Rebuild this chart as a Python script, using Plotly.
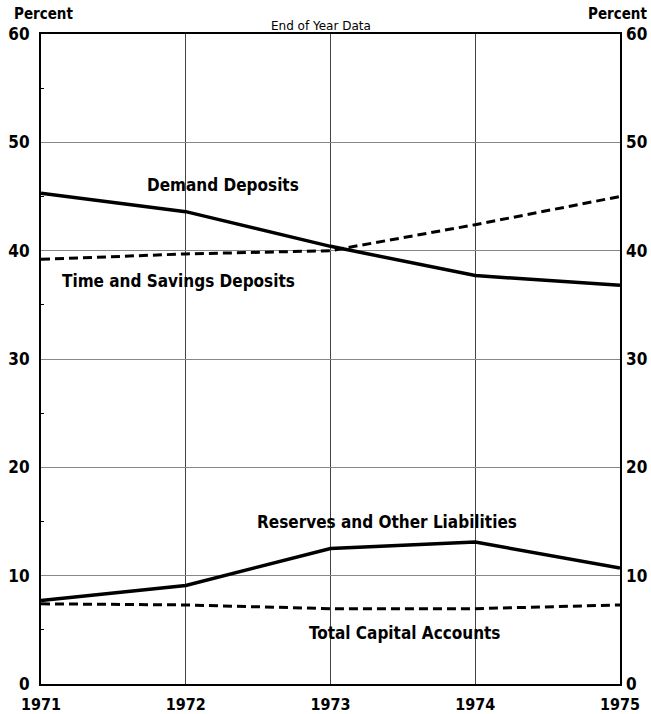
import plotly.graph_objects as go

years = [1971, 1972, 1973, 1974, 1975]
year_labels = ["1971", "1972", "1973", "1974", "1975"]
demand_deposits = [45.3, 43.6, 40.4, 37.7, 36.8]
time_savings = [39.2, 39.7, 40.0, 42.4, 45.0]
reserves_other = [7.7, 9.1, 12.5, 13.1, 10.7]
capital_accounts = [7.4, 7.3, 6.95, 6.95, 7.3]
y_ticks = [0, 10, 20, 30, 40, 50, 60]

FONT = "DejaVu Sans Condensed"
bold = dict(family=FONT, size=17, weight="bold", color="black")

fig = go.Figure()
fig.add_trace(go.Scatter(x=years, y=demand_deposits, mode="lines",
                         line=dict(color="black", width=3.5), showlegend=False))
fig.add_trace(go.Scatter(x=years, y=time_savings, mode="lines",
                         line=dict(color="black", width=3, dash="9px,5px"), showlegend=False))
fig.add_trace(go.Scatter(x=years, y=reserves_other, mode="lines",
                         line=dict(color="black", width=3.5), showlegend=False))
fig.add_trace(go.Scatter(x=years, y=capital_accounts, mode="lines",
                         line=dict(color="black", width=3, dash="9px,5px"), showlegend=False))
# invisible companion trace so the right axis is drawn
fig.add_trace(go.Scatter(x=years, y=capital_accounts, mode="lines", yaxis="y2",
                         line=dict(color="rgba(0,0,0,0)", width=0), showlegend=False,
                         hoverinfo="skip"))

labels = [
    ("Demand Deposits", 1972.26, 46.1),
    ("Time and Savings Deposits", 1971.95, 37.2),
    ("Reserves and Other Liabilities", 1973.39, 15.0),
    ("Total Capital Accounts", 1973.51, 4.7),
]
for text, x, y in labels:
    fig.add_annotation(x=x, y=y, text=text, showarrow=False,
                       font=dict(family=FONT, size=17, weight="bold", color="black"))

fig.add_annotation(xref="paper", yref="paper", x=0.5, y=1.0, yshift=8, xshift=-10,
                   yanchor="middle", text="End of Year Data", showarrow=False,
                   font=dict(family="DejaVu Sans", size=12, color="black"))
fig.add_annotation(xref="paper", yref="paper", x=0, y=1, xshift=-29, yshift=20,
                   xanchor="left", yanchor="middle", text="Percent", showarrow=False,
                   font=dict(family=FONT, size=15, weight="bold", color="black"))
fig.add_annotation(xref="paper", yref="paper", x=1, y=1, xshift=29, yshift=20,
                   xanchor="right", yanchor="middle", text="Percent", showarrow=False,
                   font=dict(family=FONT, size=15, weight="bold", color="black"))

fig.update_layout(
    width=651, height=714, autosize=False,
    margin=dict(l=41, r=31, t=34, b=30, autoexpand=False),
    paper_bgcolor="white", plot_bgcolor="white",
    xaxis=dict(range=[1971, 1975], tickvals=years, ticktext=year_labels,
               showgrid=True, gridcolor="#444", gridwidth=1,
               showline=True, linecolor="black", linewidth=2, mirror=True,
               ticks="", ticklabelstandoff=5, automargin=False,
               tickfont=dict(family=FONT, size=16, weight="bold", color="black"),
               zeroline=False),
    yaxis=dict(range=[0, 60], tickvals=y_ticks,
               showgrid=True, gridcolor="#888", gridwidth=1,
               showline=True, linecolor="black", linewidth=2, mirror=True,
               ticks="", ticklabelstandoff=6, tickfont=bold, zeroline=False,
               automargin=False,
               minor=dict(tickvals=[5, 15, 25, 35, 45, 55], ticks="inside",
                          ticklen=3, tickcolor="black", showgrid=False)),
    yaxis2=dict(range=[0, 60], tickvals=y_ticks, overlaying="y", side="right",
                showgrid=False, showline=False, ticks="", ticklabelstandoff=5,
                tickfont=bold, zeroline=False, automargin=False),
)

fig.write_html("out.html", config={"displayModeBar": False},
               post_script="document.body.style.margin='0';document.body.style.overflow='hidden';")
